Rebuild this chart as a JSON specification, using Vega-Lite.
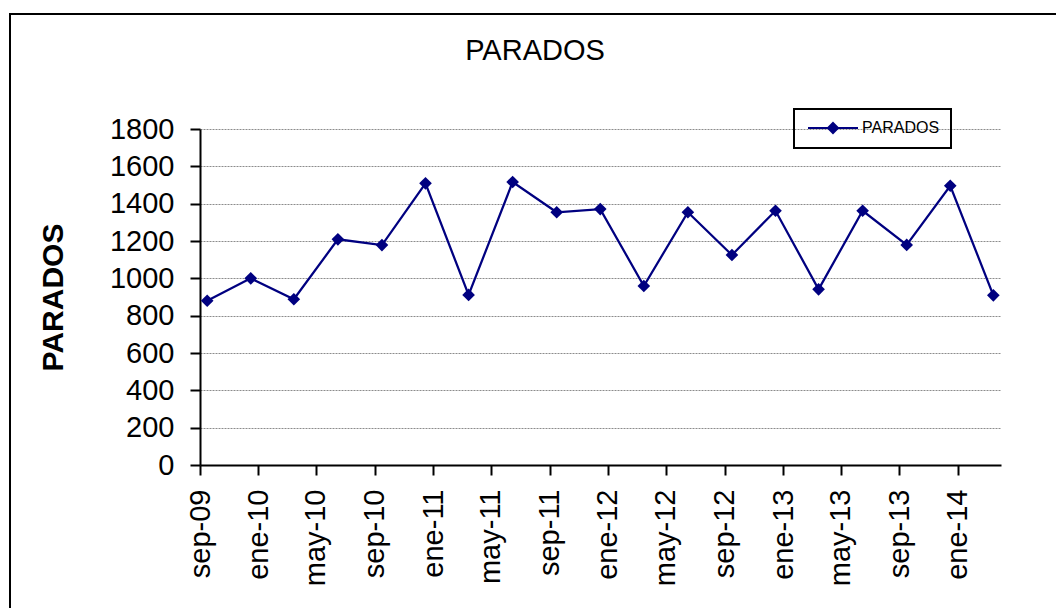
{
  "$schema": "https://vega.github.io/schema/vega-lite/v6.json",
  "width": 1050,
  "height": 598,
  "autosize": {"type": "none"},
  "padding": {"left": 10, "top": 14, "right": -4, "bottom": -4},
  "background": "white",
  "title": {"text": "PARADOS", "fontSize": 29, "font": "Liberation Sans", "fontWeight": "normal", "color": "black", "anchor": "middle", "offset": -75, "baseline": "alphabetic"},
  "data": {"values": [
    {"fecha": "2009-09-16", "parados": 880, "serie": "PARADOS"},
    {"fecha": "2009-12-16", "parados": 1000, "serie": "PARADOS"},
    {"fecha": "2010-03-16", "parados": 888, "serie": "PARADOS"},
    {"fecha": "2010-06-16", "parados": 1209, "serie": "PARADOS"},
    {"fecha": "2010-09-16", "parados": 1178, "serie": "PARADOS"},
    {"fecha": "2010-12-16", "parados": 1509, "serie": "PARADOS"},
    {"fecha": "2011-03-16", "parados": 911, "serie": "PARADOS"},
    {"fecha": "2011-06-16", "parados": 1516, "serie": "PARADOS"},
    {"fecha": "2011-09-16", "parados": 1354, "serie": "PARADOS"},
    {"fecha": "2011-12-16", "parados": 1371, "serie": "PARADOS"},
    {"fecha": "2012-03-16", "parados": 959, "serie": "PARADOS"},
    {"fecha": "2012-06-16", "parados": 1354, "serie": "PARADOS"},
    {"fecha": "2012-09-16", "parados": 1125, "serie": "PARADOS"},
    {"fecha": "2012-12-16", "parados": 1362, "serie": "PARADOS"},
    {"fecha": "2013-03-16", "parados": 941, "serie": "PARADOS"},
    {"fecha": "2013-06-16", "parados": 1362, "serie": "PARADOS"},
    {"fecha": "2013-09-16", "parados": 1179, "serie": "PARADOS"},
    {"fecha": "2013-12-16", "parados": 1496, "serie": "PARADOS"},
    {"fecha": "2014-03-16", "parados": 909, "serie": "PARADOS"}
  ]},
  "encoding": {
    "x": {
      "field": "fecha", "type": "temporal",
      "scale": {"type": "utc", "domain": [{"year": 2009, "month": 9, "date": 1, "utc": true}, {"year": 2014, "month": 4, "date": 1, "utc": true}], "range": [190, 991]},
      "axis": {
        "values": [
          {"year": 2009, "month": 9, "date": 1, "utc": true},
          {"year": 2010, "month": 1, "date": 1, "utc": true},
          {"year": 2010, "month": 5, "date": 1, "utc": true},
          {"year": 2010, "month": 9, "date": 1, "utc": true},
          {"year": 2011, "month": 1, "date": 1, "utc": true},
          {"year": 2011, "month": 5, "date": 1, "utc": true},
          {"year": 2011, "month": 9, "date": 1, "utc": true},
          {"year": 2012, "month": 1, "date": 1, "utc": true},
          {"year": 2012, "month": 5, "date": 1, "utc": true},
          {"year": 2012, "month": 9, "date": 1, "utc": true},
          {"year": 2013, "month": 1, "date": 1, "utc": true},
          {"year": 2013, "month": 5, "date": 1, "utc": true},
          {"year": 2013, "month": 9, "date": 1, "utc": true},
          {"year": 2014, "month": 1, "date": 1, "utc": true}
        ],
        "labelExpr": "['ene','feb','mar','abr','may','jun','jul','ago','sep','oct','nov','dic'][utcmonth(datum.value)] + '-' + utcFormat(datum.value, '%y')",
        "labelAngle": -90,
        "labelFontSize": 29,
        "labelFont": "Liberation Sans",
        "labelColor": "black",
        "labelPadding": 14,
        "labelOverlap": false,
        "labelFlush": false,
        "tickSize": 10,
        "tickColor": "black",
        "tickWidth": 2,
        "domainColor": "black",
        "domainWidth": 2,
        "grid": false,
        "title": null,
        "offset": -147
      }
    },
    "y": {
      "field": "parados", "type": "quantitative",
      "scale": {"domain": [0, 1800], "range": [451, 115], "nice": false},
      "axis": {
        "values": [0, 200, 400, 600, 800, 1000, 1200, 1400, 1600, 1800],
        "format": "d",
        "grid": true,
        "gridColor": "#8c8c8c",
        "gridDash": [2, 1],
        "gridWidth": 1,
        "labelFontSize": 29,
        "labelFont": "Liberation Sans",
        "labelColor": "black",
        "labelPadding": 16,
        "tickSize": 10,
        "tickColor": "black",
        "tickWidth": 2,
        "domainColor": "black",
        "domainWidth": 2,
        "title": "PARADOS",
        "titleFont": "Liberation Sans",
        "titleFontSize": 30,
        "titleFontWeight": "bold",
        "titleColor": "black",
        "titlePadding": 41,
        "offset": -190
      }
    },
    "color": {
      "field": "serie", "type": "nominal",
      "scale": {"range": ["#000080"]},
      "legend": {
        "orient": "none",
        "legendX": 784,
        "legendY": 95,
        "title": null,
        "strokeColor": "black",
        "padding": 11,
        "labelFontSize": 16,
        "labelFont": "Liberation Sans",
        "labelColor": "black",
        "labelOffset": 41,
        "symbolType": "M-1,0L9,0M4,-1L5,0L4,1L3,0Z",
        "symbolSize": 100,
        "symbolStrokeWidth": 2,
        "encode": {
          "legend": {"update": {"strokeWidth": {"value": 2}}},
          "symbols": {"update": {"fill": {"value": "#000080"}, "stroke": {"value": "#000080"}, "opacity": {"value": 1}, "strokeWidth": {"value": 2}}}
        }
      }
    }
  },
  "layer": [
    {"mark": {"type": "line", "strokeWidth": 2.25}},
    {"mark": {"type": "point", "shape": "diamond", "filled": true, "size": 160, "opacity": 1}}
  ],
  "config": {"view": {"stroke": "black", "strokeWidth": 2}}
}
